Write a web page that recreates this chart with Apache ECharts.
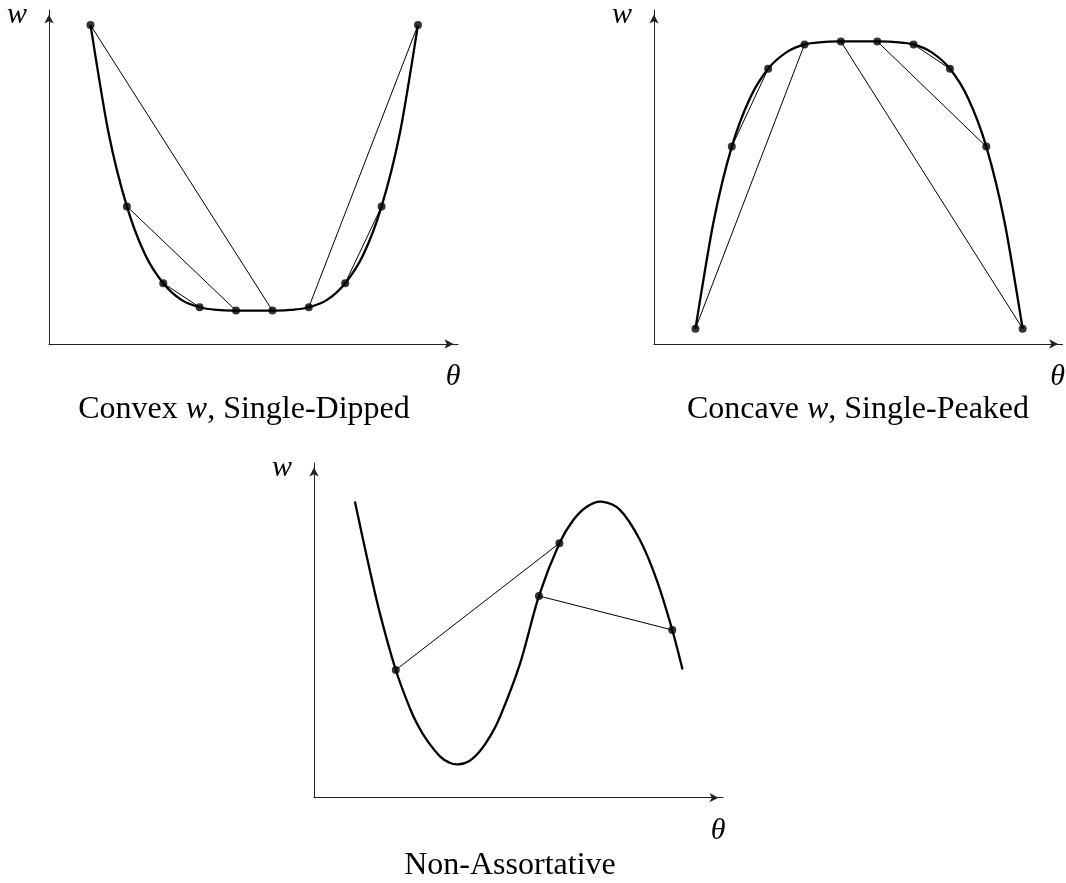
<!DOCTYPE html>
<html><head><meta charset="utf-8">
<script src="https://cdn.jsdelivr.net/npm/echarts/dist/echarts.min.js"></script>
<style>html,body{margin:0;padding:0;background:#fff}#c{width:1066px;height:883px}</style>
</head><body><div id="c"></div>
<script>
// ---- Panel 1: Convex w, Single-Dipped ----
const theta1Curve = [1, 1.5, 2, 2.5, 3, 3.5, 4, 4.5, 5, 5.5, 6, 6.5, 7, 7.5, 8, 8.5, 9, 9.5, 10];
const w1Curve     = [9.55, 6.3, 4.12, 2.68, 1.82, 1.32, 1.10, 1.02, 1.00, 1.00, 1.00, 1.02, 1.10, 1.32, 1.82, 2.68, 4.12, 6.3, 9.55];
const theta1Dots  = [1, 2, 3, 4, 5, 6, 7, 8, 9, 10];
const w1Dots      = [9.55, 4.12, 1.82, 1.10, 1.00, 1.00, 1.10, 1.82, 4.12, 9.55];
const chords1     = [[0, 5], [1, 4], [2, 3], [6, 9], [7, 8]];

// ---- Panel 2: Concave w, Single-Peaked ----
const theta2Curve = [1, 1.5, 2, 2.5, 3, 3.5, 4, 4.5, 5, 5.5, 6, 6.5, 7, 7.5, 8, 8.5, 9, 9.5, 10];
const w2Curve     = [0.46, 3.67, 5.91, 7.36, 8.24, 8.73, 8.97, 9.04, 9.06, 9.06, 9.06, 9.04, 8.97, 8.73, 8.24, 7.36, 5.91, 3.67, 0.46];
const theta2Dots  = [1, 2, 3, 4, 5, 6, 7, 8, 9, 10];
const w2Dots      = [0.46, 5.91, 8.24, 8.97, 9.06, 9.06, 8.97, 8.24, 5.91, 0.46];
const chords2     = [[0, 3], [1, 2], [4, 9], [5, 8], [6, 7]];

// ---- Panel 3: Non-Assortative ----
const theta3Curve = [1.00, 1.29, 1.61, 2.00, 2.35, 2.54, 2.76, 3.08, 3.30, 3.52, 3.79, 4.06, 4.30, 4.55, 5.04, 5.50, 6.00, 6.34, 6.67, 7.03, 7.48, 7.97, 8.38, 8.76, 9.01];
const w3Curve     = [9.32, 7.59, 5.81, 4.02, 2.80, 2.28, 1.81, 1.30, 1.11, 1.05, 1.15, 1.47, 1.92, 2.55, 4.23, 6.35, 8.01, 8.74, 9.16, 9.32, 9.06, 8.11, 6.85, 5.28, 4.04];
const theta3Dots  = [2.00, 5.50, 6.00, 8.76];
const w3Dots      = [4.02, 6.35, 8.01, 5.28];
const chords3     = [[0, 2], [1, 3]];

const captions = ['Convex {i|w}, Single-Dipped', 'Concave {i|w}, Single-Peaked', 'Non-Assortative'];
const axisNameX = 'θ', axisNameY = 'w';

const SERIF = '"Liberation Serif", "DejaVu Serif", serif';
const pairs = (xs, ys) => xs.map((x, i) => [x, ys[i]]);

const panels = [
  { curve: pairs(theta1Curve, w1Curve), dotsX: theta1Dots, dotsY: w1Dots, chords: chords1,
    grid: { left: 49, top: 8, width: 409, height: 336 }, xMin: -0.14, xMax: 11.1, yMax: 10 },
  { curve: pairs(theta2Curve, w2Curve), dotsX: theta2Dots, dotsY: w2Dots, chords: chords2,
    grid: { left: 654, top: 10, width: 409, height: 334 }, xMin: -0.14, xMax: 11.1, yMax: 10 },
  { curve: pairs(theta3Curve, w3Curve), dotsX: theta3Dots, dotsY: w3Dots, chords: chords3,
    grid: { left: 314, top: 463, width: 409, height: 334.7 }, xMin: 0, xMax: 10, yMax: 10.535 }
];

// smooth curve through the data points (Catmull-Rom), positioned with the axes' scales
function smoothCurve(params, api) {
  if (params.dataIndexInside !== 0) return null;
  const n = params.dataInsideLength;
  const P = [];
  for (let k = 0; k < n; k++) P.push(api.coord([api.value(0, k), api.value(1, k)]));
  let d = 'M' + P[0][0] + ',' + P[0][1];
  for (let k = 0; k < n - 1; k++) {
    const p0 = P[Math.max(k - 1, 0)], p1 = P[k], p2 = P[k + 1], p3 = P[Math.min(k + 2, n - 1)];
    const c1x = p1[0] + (p2[0] - p0[0]) / 6, c1y = p1[1] + (p2[1] - p0[1]) / 6;
    const c2x = p2[0] - (p3[0] - p1[0]) / 6, c2y = p2[1] - (p3[1] - p1[1]) / 6;
    d += ' C' + c1x + ',' + c1y + ' ' + c2x + ',' + c2y + ' ' + p2[0] + ',' + p2[1];
  }
  return { type: 'path', shape: { pathData: d }, style: { stroke: '#000', lineWidth: 2.3, fill: 'none', lineJoin: 'round' } };
}

const axisLine = {
  show: true, onZero: false, symbol: ['none', 'arrow'], symbolSize: [7, 9], symbolOffset: [0, -4.5],
  lineStyle: { color: '#222', width: 1 }
};
const nameStyleBase = { fontFamily: SERIF, fontStyle: 'italic', fontSize: 30, color: '#000' };

const option = {
  animation: false,
  backgroundColor: '#fff',
  grid: panels.map(p => p.grid),
  xAxis: panels.map((p, i) => ({
    type: 'value', gridIndex: i, min: p.xMin, max: p.xMax,
    axisLine, axisTick: { show: false }, axisLabel: { show: false }, splitLine: { show: false },
    name: axisNameX, nameLocation: 'end', nameGap: -5,
    nameTextStyle: Object.assign({ align: 'center', verticalAlign: 'top', padding: [18, 0, 0, 0] }, nameStyleBase)
  })),
  yAxis: panels.map((p, i) => ({
    type: 'value', gridIndex: i, min: 0, max: p.yMax,
    axisLine, axisTick: { show: false }, axisLabel: { show: false }, splitLine: { show: false },
    name: axisNameY, nameLocation: 'end', nameGap: -5,
    nameTextStyle: Object.assign({ align: 'right', verticalAlign: 'middle', padding: [0, 22, 0, 0] }, nameStyleBase)
  })),
  series: panels.flatMap((p, i) => [
    { type: 'custom', coordinateSystem: 'cartesian2d', xAxisIndex: i, yAxisIndex: i, data: p.curve,
      renderItem: smoothCurve, silent: true, z: 3 },
    { type: 'lines', coordinateSystem: 'cartesian2d', xAxisIndex: i, yAxisIndex: i, silent: true,
      data: p.chords.map(([a, b]) => ({ coords: [[p.dotsX[a], p.dotsY[a]], [p.dotsX[b], p.dotsY[b]]] })),
      lineStyle: { color: '#000', width: 1, opacity: 1, curveness: 0 }, z: 2 },
    { type: 'scatter', xAxisIndex: i, yAxisIndex: i, data: pairs(p.dotsX, p.dotsY), symbolSize: 8, silent: true,
      itemStyle: { color: '#000' }, z: 4 }
  ]),
  graphic: [
    { x: 244, y: 410 }, { x: 858, y: 410 }, { x: 510, y: 866 }
  ].map((pos, i) => ({
    type: 'text', x: pos.x, y: pos.y, silent: true,
    style: {
      text: captions[i], fill: '#000', fontFamily: SERIF, fontSize: 32,
      align: 'center', verticalAlign: 'middle', textAlign: 'center', textVerticalAlign: 'middle',
      rich: { i: { fontStyle: 'italic', fontFamily: SERIF, fontSize: 32, fill: '#000' } }
    }
  }))
};

const chart = echarts.init(document.getElementById('c'), null, { renderer: 'canvas' });
chart.setOption(option);
</script>
</body></html>
